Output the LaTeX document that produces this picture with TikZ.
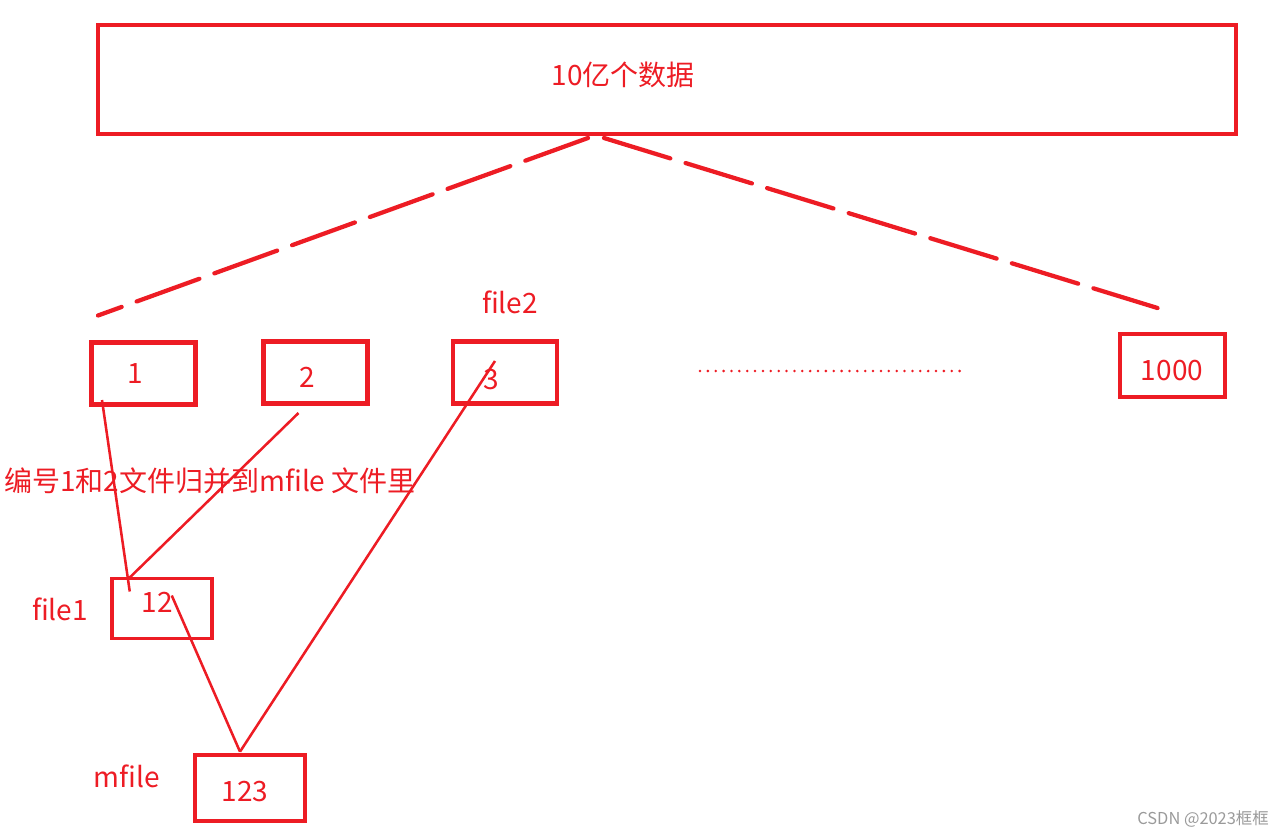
\documentclass[tikz,border=0pt]{standalone}
\usepackage{fontspec}
\setmainfont{Noto Sans CJK SC}
\definecolor{pred}{HTML}{ED1C24}
\definecolor{wmgray}{HTML}{9A9A9A}
\begin{document}
\begin{tikzpicture}[x=0.75pt,y=-0.75pt,
  thickbox/.style={draw=pred,line width=3.6pt,inner sep=0pt,outer sep=0pt},
  thinbox/.style={draw=pred,line width=2.9pt,inner sep=0pt,outer sep=0pt},
  txt/.style={text=pred,font=\fontsize{21}{25}\selectfont,inner sep=0pt},
  dashline/.style={draw=pred,line width=3.2pt,line cap=round,dash pattern=on 50pt off 12pt},
  thinline/.style={draw=pred,line width=1.9pt},
  dotline/.style={draw=pred,line width=2.1pt,line cap=round,dash pattern=on 0pt off 5.9pt}]
\useasboundingbox (0,0) rectangle (1284,835);
% boxes
\node[thickbox,minimum width=1138*0.75pt,minimum height=109*0.75pt] (data) at (667,79.5) {};
\node[thickbox,minimum width=104*0.75pt,minimum height=62*0.75pt] (b1) at (143.5,373.5) {};
\node[thickbox,minimum width=104*0.75pt,minimum height=62*0.75pt] (b2) at (315.5,372.5) {};
\node[thickbox,minimum width=104*0.75pt,minimum height=62*0.75pt] (b3) at (505,372.5) {};
\node[thickbox,minimum width=105*0.75pt,minimum height=63*0.75pt] (b1000) at (1172.5,365.5) {};
\node[thinbox,minimum width=100*0.75pt,minimum height=60*0.75pt] (b12) at (161.75,608.5) {};
\node[thinbox,minimum width=110*0.75pt,minimum height=66*0.75pt] (b123) at (249.7,787.7) {};
% texts
\node[txt] (tdata) at (623,75) {10亿个数据};
\node[txt] (t1) at (135,374) {1};
\node[txt] (t2) at (307,377) {2};
\node[txt] (t3) at (491,380) {3};
\node[txt] (t1000) at (1172,371) {1000};
\node[txt] (tfile2) at (510,302) {file2};
\node[txt] (tmerge) at (210,481) {编号1和2文件归并到mfile 文件里};
\node[txt] (t12) at (157,602) {12};
\node[txt] (tfile1) at (60,609) {file1};
\node[txt] (t123) at (245,792) {123};
\node[txt] (tmfile) at (127,776) {mfile};
\node[text=wmgray,font=\fontsize{12.3}{14}\selectfont,inner sep=0pt,anchor=east] (wm) at (1269,819) {CSDN @2023框框};
% connector end points
\coordinate (dl0) at ([shift={(-79,4)}]data.south);
\coordinate (dl1) at ([shift={(6.5,-27)}]b1.north west);
\coordinate (dr0) at ([shift={(-63,4)}]data.south);
\coordinate (dr1) at ([shift={(-15,-26)}]b1000.north);
\coordinate (l1a) at ([shift={(10.5,-4.5)}]b1.south west);
\coordinate (l1b) at ([shift={(18,13)}]b12.north west);
\coordinate (l2a) at ([shift={(-17,9.5)}]b2.south);
\coordinate (l2b) at ([shift={(18,-1)}]b12.north west);
\coordinate (l3a) at ([shift={(-10,19.5)}]b3.north);
\coordinate (l3b) at ([shift={(-9.7,-3)}]b123.north);
\coordinate (l4a) at ([shift={(10,17)}]b12.north);
\coordinate (dot0) at (700,371);
\coordinate (dot1) at (962,371);
% dashed lines
\draw[dashline] (dl0) -- (dl1);
\draw[dashline,dash pattern=on 52pt off 12pt] (dr0) -- (dr1);
% thin lines
\draw[thinline] (l1a) -- (l1b);
\draw[thinline] (l2a) -- (l2b);
\draw[thinline] (l3a) -- (l3b);
\draw[thinline] (l4a) -- (l3b);
% dotted line
\draw[dotline] (dot0) -- (dot1);
\end{tikzpicture}
\end{document}
